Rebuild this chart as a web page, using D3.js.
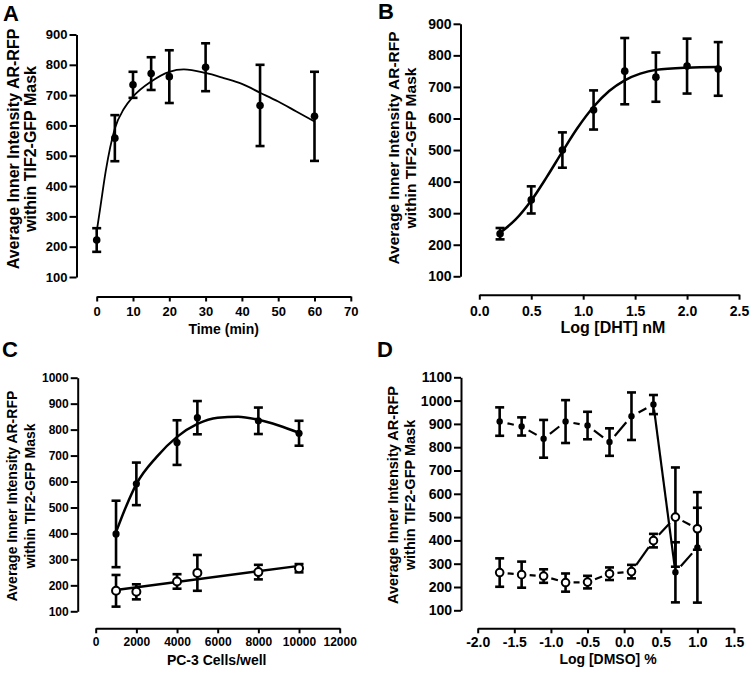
<!DOCTYPE html>
<html><head><meta charset="utf-8">
<script src="https://cdn.jsdelivr.net/npm/d3@7"></script>
<style>
body{margin:0;background:#fff}
text{font-family:"Liberation Sans",Arial,sans-serif;font-weight:bold;fill:#000}
</style>
</head><body>
<svg id="c" width="750" height="673"></svg>
<script>
// ---------- Panel A: time course ----------
const timeMin   = [0, 5, 10, 15, 20, 30, 45, 60];
const timeMean  = [222, 558, 734, 771, 761, 792, 666, 630];
const timeErr   = [39, 76, 43, 54, 87, 79, 134, 147];
const timeFitX  = [0, 1, 2.5, 5, 7.5, 10, 15, 20, 24, 30, 35, 40, 45, 50, 55, 60];
const timeFitY  = [250, 330, 450, 590, 655, 695, 745, 777, 785, 773, 756, 737, 708, 679, 646, 613];
const timeXTicks = [0, 10, 20, 30, 40, 50, 60, 70];
const yTicks900  = [100, 200, 300, 400, 500, 600, 700, 800, 900];

// ---------- Panel B: DHT dose response ----------
const dhtLog    = [0.2, 0.5, 0.8, 1.1, 1.4, 1.7, 2.0, 2.3];
const dhtMean   = [235, 342, 500, 627, 750, 731, 766, 757];
const dhtErr    = [18, 43, 56, 62, 105, 78, 87, 85];
const dhtFitX   = [0.2, 0.35, 0.5, 0.65, 0.8, 0.95, 1.1, 1.25, 1.4, 1.55, 1.7, 2.0, 2.3];
const dhtFitY   = [238, 280, 340, 415, 495, 572, 637, 687, 721, 742, 754, 761, 763];
const dhtXTicks = [0.0, 0.5, 1.0, 1.5, 2.0, 2.5];

// ---------- Panel C: cell density ----------
const cellsPerWell = [1000, 2000, 4000, 5000, 8000, 10000];
const cellsFilledMean = [398, 591, 750, 846, 834, 786];
const cellsFilledErr  = [128, 82, 86, 64, 51, 48];
const cellsOpenMean   = [179, 175, 215, 248, 251, 266];
const cellsOpenErr    = [61, 29, 28, 69, 28, 16];
const cellsFitX = [1000, 1500, 2000, 3000, 4000, 5000, 6000, 7000, 8000, 9000, 10000];
const cellsFitY = [405, 505, 590, 695, 772, 822, 846, 850, 838, 816, 788];
const cellsOpenFitX = [1000, 10000];
const cellsOpenFitY = [182, 275];
const cellsXTicks = [0, 2000, 4000, 6000, 8000, 10000, 12000];
const yTicks1000  = [100, 200, 300, 400, 500, 600, 700, 800, 900, 1000];

// ---------- Panel D: DMSO tolerance ----------
const dmsoLog = [-1.7, -1.4, -1.1, -0.8, -0.5, -0.2, 0.1, 0.4, 0.7, 1.0];
const dmsoFilledMean = [910, 889, 836, 910, 893, 822, 933, 983, 263, 370];
const dmsoFilledErr  = [61, 39, 81, 92, 59, 59, 102, 41, 129, 237];
const dmsoOpenMean   = [262, 253, 247, 219, 221, 257, 266, 399, 500, 450];
const dmsoOpenErr    = [61, 56, 29, 39, 27, 27, 29, 29, 213, 90];
const dmsoXTicks = [-2.0, -1.5, -1.0, -0.5, 0.0, 0.5, 1.0, 1.5];
const yTicks1100 = [100, 200, 300, 400, 500, 600, 700, 800, 900, 1000, 1100];

const yLabel1 = "Average Inner Intensity AR-RFP";
const yLabel2 = "within TIF2-GFP Mask";

const svg = d3.select("#c");

function panel(cfg) {
  const g = svg.append("g");
  const x = d3.scaleLinear().domain(cfg.xDomain).range(cfg.xRange);
  const y = d3.scaleLinear().domain(cfg.yDomain).range(cfg.yRange);

  // y axis
  const ya = g.append("g").attr("transform", `translate(${cfg.yAxisX},0)`)
    .call(d3.axisLeft(y).tickValues(cfg.yTicks).tickSize(7).tickSizeOuter(0).tickPadding(2).tickFormat(d => String(d)));
  // x axis
  const xa = g.append("g").attr("transform", `translate(0,${cfg.xAxisY})`)
    .call(d3.axisBottom(x).tickValues(cfg.xTicks).tickSize(5).tickSizeOuter(0).tickPadding(cfg.xPad).tickFormat(cfg.xFormat));
  [ya, xa].forEach(a => {
    a.selectAll("path,line").attr("stroke", "#000").attr("stroke-width", 2);
    a.selectAll("text").attr("fill", "#000").style("font-size", cfg.tickFs + "px")
      .style("font-family", '"Liberation Sans",Arial,sans-serif').style("font-weight", "bold");
  });

  // y label
  const yl = g.append("g");
  yl.append("text").attr("transform", `translate(${cfg.yl1},${cfg.ylc}) rotate(-90)`)
    .attr("text-anchor", "middle").style("font-size", cfg.ylFs + "px").text(yLabel1);
  yl.append("text").attr("transform", `translate(${cfg.yl2},${cfg.ylc}) rotate(-90)`)
    .attr("text-anchor", "middle").style("font-size", cfg.ylFs + "px").text(yLabel2);
  // x title
  g.append("text").attr("x", cfg.xtX).attr("y", cfg.xtY).attr("text-anchor", "middle")
    .style("font-size", cfg.xtFs + "px").text(cfg.xTitle);
  // panel letter
  g.append("text").attr("x", cfg.letterX).attr("y", cfg.letterY)
    .style("font-size", "22px").text(cfg.letter);
  return {g, x, y};
}

function fitLine(p, xs, ys, w) {
  const line = d3.line().x(d => p.x(d[0])).y(d => p.y(d[1])).curve(d3.curveMonotoneX);
  p.g.append("path").datum(xs.map((v, i) => [v, ys[i]]))
    .attr("d", line).attr("fill", "none").attr("stroke", "#000").attr("stroke-width", w);
}

function errorBars(p, xs, ms, es, cw, w) {
  const gg = p.g.append("g").attr("stroke", "#000").attr("stroke-width", w);
  xs.forEach((v, i) => {
    const cx = p.x(v), top = p.y(ms[i] + es[i]), bot = p.y(ms[i] - es[i]);
    gg.append("line").attr("x1", cx).attr("x2", cx).attr("y1", top).attr("y2", bot);
    gg.append("line").attr("x1", cx - cw).attr("x2", cx + cw).attr("y1", top).attr("y2", top);
    gg.append("line").attr("x1", cx - cw).attr("x2", cx + cw).attr("y1", bot).attr("y2", bot);
  });
}

function markers(p, xs, ms, r, open) {
  p.g.append("g").selectAll("circle").data(xs).join("circle")
    .attr("cx", d => p.x(d)).attr("cy", (d, i) => p.y(ms[i])).attr("r", r)
    .attr("fill", open ? "#fff" : "#000").attr("stroke", "#000").attr("stroke-width", open ? 2 : 0);
}

function gappedLines(p, xs, ms, gap, w, solidIdx) {
  const gg = p.g.append("g").attr("stroke", "#000").attr("stroke-width", w);
  for (let i = 0; i < xs.length - 1; i++) {
    const x1 = p.x(xs[i]), y1 = p.y(ms[i]), x2 = p.x(xs[i + 1]), y2 = p.y(ms[i + 1]);
    const L = Math.hypot(x2 - x1, y2 - y1);
    const gp = (solidIdx === i) ? 5 : gap;
    if (L <= 2 * gp + 1) continue;
    const ux = (x2 - x1) / L, uy = (y2 - y1) / L;
    gg.append("line").attr("x1", x1 + ux * gp).attr("y1", y1 + uy * gp)
      .attr("x2", x2 - ux * gp).attr("y2", y2 - uy * gp);
  }
}

const fmt1 = d => d.toFixed(1);

// ---- A ----
const pA = panel({
  xDomain: [0, 70], xRange: [96.7, 350.8], yDomain: [100, 900], yRange: [277, 34.5],
  yAxisX: 76.5, xAxisY: 296.5, yTicks: yTicks900, xTicks: timeXTicks, xFormat: d => String(d),
  xPad: 5, tickFs: 13, yl1: 18.5, yl2: 35.5, ylc: 149, ylFs: 16,
  xtX: 223.7, xtY: 334, xtFs: 14, xTitle: "Time (min)", letter: "A", letterX: 3, letterY: 21
});
fitLine(pA, timeFitX, timeFitY, 1.8);
errorBars(pA, timeMin, timeMean, timeErr, 4.5, 2.6);
markers(pA, timeMin, timeMean, 3.8, false);

// ---- B ----
const pB = panel({
  xDomain: [0, 2.5], xRange: [479.3, 739], yDomain: [100, 900], yRange: [276.3, 23.8],
  yAxisX: 460.5, xAxisY: 294.7, yTicks: yTicks900, xTicks: dhtXTicks, xFormat: fmt1,
  xPad: 6, tickFs: 14, yl1: 398.5, yl2: 415.5, ylc: 148, ylFs: 15.5,
  xtX: 613, xtY: 333, xtFs: 16, xTitle: "Log [DHT] nM", letter: "B", letterX: 378, letterY: 19
});
fitLine(pB, dhtFitX, dhtFitY, 2.5);
errorBars(pB, dhtLog, dhtMean, dhtErr, 4.5, 2.6);
markers(pB, dhtLog, dhtMean, 3.8, false);

// ---- C ----
const pC = panel({
  xDomain: [0, 12000], xRange: [95.7, 339.7], yDomain: [100, 1000], yRange: [611.3, 377.7],
  yAxisX: 77.7, xAxisY: 628.3, yTicks: yTicks1000, xTicks: cellsXTicks, xFormat: d => String(d),
  xPad: 4, tickFs: 12, yl1: 17, yl2: 35, ylc: 496, ylFs: 14,
  xtX: 216.7, xtY: 665, xtFs: 14, xTitle: "PC-3 Cells/well", letter: "C", letterX: 2, letterY: 357
});
fitLine(pC, cellsFitX, cellsFitY, 2.5);
fitLine(pC, cellsOpenFitX, cellsOpenFitY, 2.5);
errorBars(pC, cellsPerWell, cellsFilledMean, cellsFilledErr, 4.5, 2.6);
errorBars(pC, cellsPerWell, cellsOpenMean, cellsOpenErr, 4.5, 2.6);
markers(pC, cellsPerWell, cellsFilledMean, 3.6, false);
markers(pC, cellsPerWell, cellsOpenMean, 4, true);

// ---- D ----
const pD = panel({
  xDomain: [-2, 1.5], xRange: [477.7, 734], yDomain: [100, 1100], yRange: [610.3, 377.3],
  yAxisX: 461, xAxisY: 628.3, yTicks: yTicks1100, xTicks: dmsoXTicks, xFormat: fmt1,
  xPad: 4, tickFs: 14, yl1: 398, yl2: 415, ylc: 495, ylFs: 14.5,
  xtX: 608, xtY: 664, xtFs: 14, xTitle: "Log [DMSO] %", letter: "D", letterX: 377, letterY: 357
});
gappedLines(pD, dmsoLog, dmsoFilledMean, 8, 2.2, 7);
gappedLines(pD, dmsoLog, dmsoOpenMean, 8, 2.2, -1);
errorBars(pD, dmsoLog, dmsoFilledMean, dmsoFilledErr, 4.5, 2.6);
errorBars(pD, dmsoLog, dmsoOpenMean, dmsoOpenErr, 4.5, 2.6);
markers(pD, dmsoLog, dmsoFilledMean, 3.2, false);
markers(pD, dmsoLog, dmsoOpenMean, 3.8, true);
</script>
</body></html>
